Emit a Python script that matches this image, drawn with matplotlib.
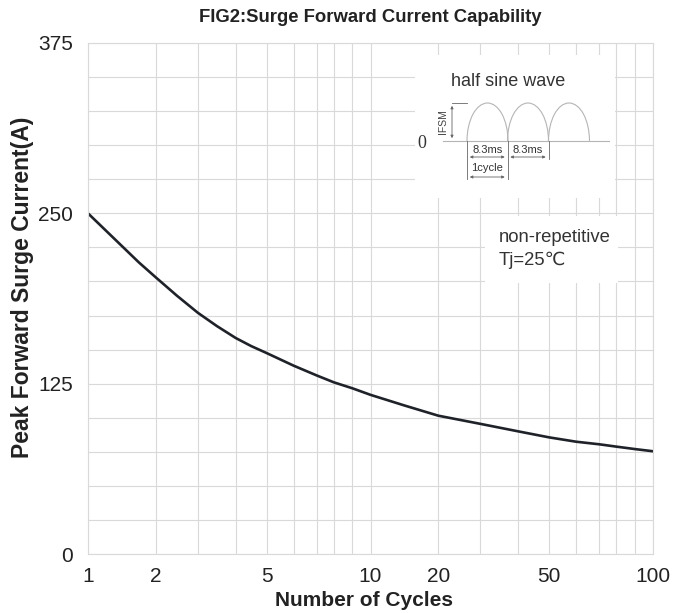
import numpy as np
import matplotlib
matplotlib.use("Agg")
from matplotlib import pyplot as plt
from matplotlib.patches import Arc, Rectangle

plt.rcParams['font.family'] = ['Liberation Sans', 'DejaVu Sans']

# values
cycles = [1, 1.25, 1.5, 1.75, 2, 2.5, 3, 3.5, 4, 4.5, 5, 6, 7, 8, 9, 10,
          15, 20, 30, 40, 50, 60, 70, 80, 90, 100]
current = [250, 238, 226, 214, 203, 189.6, 177, 167.3, 158.5, 152.6, 147.5, 138.2,
           131, 126, 121.6, 116.8, 109, 101.5, 95.5, 90, 85.6, 82.4, 80.5, 78.8, 77, 75.4]
x_ticks = [1, 2, 5, 10, 20, 50, 100]
y_ticks = [0, 125, 250, 375]

# the chart paper is not a true log grid: measured position of 1..10 inside one decade
decade_frac = np.array([0, 0.24, 0.389, 0.523, 0.632, 0.728, 0.81, 0.87, 0.936, 1.0])
decade_m = np.arange(1, 11)


def fwd(x):
    x = np.clip(np.asarray(x, float), 1e-3, None)
    d = np.floor(np.log10(x) + 1e-12)
    return d + np.interp(x / 10 ** d, decade_m, decade_frac)


def inv(y):
    y = np.asarray(y, float)
    d = np.floor(y)
    return 10 ** d * np.interp(y - d, decade_frac, decade_m)


W, H = 693, 613
fig = plt.figure(figsize=(W / 100, H / 100), dpi=100)
ax = fig.add_axes([88 / W, 1 - 554 / H, 565 / W, 511 / H])
ax.set_xscale('function', functions=(fwd, inv))
ax.set_xlim(1, 100)
ax.set_ylim(0, 375)

grid_c = '#d9d9d9'
ax.set_xticks(x_ticks)
ax.set_xticklabels([str(v) for v in x_ticks])
ax.set_xticks([v for v in list(range(1, 10)) + list(range(10, 101, 10)) if v not in x_ticks], minor=True)
ax.set_yticks(y_ticks)
ax.set_yticks(np.arange(0, 376, 25), minor=True)
ax.grid(True, which='both', color=grid_c, lw=0.8)
ax.set_axisbelow(True)
ax.tick_params(which='both', length=0, labelsize=15, colors='#222222')
ax.tick_params(axis='y', pad=11)
ax.tick_params(axis='x', pad=9)
for s in ax.spines.values():
    s.set_color(grid_c)
    s.set_linewidth(0.8)

ax.plot(cycles, current, color='#1f2329', lw=1.9, solid_capstyle='round',
        solid_joinstyle='round')

fig.text(370 / W, 1 - 17 / H, 'FIG2:Surge Forward Current Capability', ha='center', va='center',
         fontsize=13.3, fontweight='bold', color='#222222')
fig.text(364 / W, 1 - 601 / H, 'Number of Cycles', ha='center', va='center',
         fontsize=15, fontweight='bold', color='#222222')
fig.text(23 / W, 1 - 287 / H, 'Peak Forward Surge Current(A)', ha='center', va='center',
         rotation=90, fontsize=16.5, fontweight='bold', color='#222222')

# overlay in pixel coordinates for the schematic and notes
ov = fig.add_axes([0, 0, 1, 1])
ov.set_xlim(0, W)
ov.set_ylim(H, 0)
ov.axis('off')
ov.patch.set_alpha(0)

ov.add_patch(Rectangle((415, 55), 200, 143, facecolor='white', edgecolor='none'))
ov.add_patch(Rectangle((485, 216), 133, 67, facecolor='white', edgecolor='none'))

ov.text(508, 81, 'half sine wave', ha='center', va='center', fontsize=13, color='#333333')
ov.text(499, 237, 'non-repetitive', ha='left', va='center', fontsize=13.3, color='#333333')
ov.text(499, 260, 'Tj=25℃', ha='left', va='center', fontsize=13.3, color='#333333')

base, peak = 141, 103
starts = [467, 507.5, 548.5]
width = 41
for x0 in starts:
    ov.add_patch(Arc((x0 + width / 2, base), width, 2 * (base - peak), theta1=180, theta2=360,
                     color='#b5b5b5', lw=0.8))
ov.plot([443, 609], [base, base], color='#b5b5b5', lw=0.8)
ov.text(422, 143, '0', ha='center', va='center', fontsize=13, color='#333333',
        family='Liberation Serif')

line_c = '#666666'
ov.plot([452, 467], [peak, peak], color=line_c, lw=0.6)
ov.annotate('', xy=(452, peak), xytext=(452, base),
            arrowprops=dict(arrowstyle='<|-|>', lw=0.6, color=line_c, mutation_scale=4))
ov.text(443, 122, 'IFSM', rotation=90, ha='center', va='center', fontsize=7.5, color='#444444')

ov.plot([467, 467], [base, 179], color=line_c, lw=0.6)
ov.plot([507.5, 507.5], [base, 179], color=line_c, lw=0.6)
ov.plot([548.5, 548.5], [base, 159], color=line_c, lw=0.6)
for a, b in [(467, 507.5), (507.5, 548.5)]:
    ov.annotate('', xy=(a, 157), xytext=(b, 157),
                arrowprops=dict(arrowstyle='<|-|>', lw=0.6, color=line_c, mutation_scale=4))
    ov.text((a + b) / 2, 150, '8.3ms', ha='center', va='center', fontsize=8, color='#333333')
ov.annotate('', xy=(467, 177), xytext=(507.5, 177),
            arrowprops=dict(arrowstyle='<|-|>', lw=0.6, color=line_c, mutation_scale=4))
ov.text(487, 168, '1cycle', ha='center', va='center', fontsize=8, color='#333333')

fig.savefig('out.png', dpi=100)
